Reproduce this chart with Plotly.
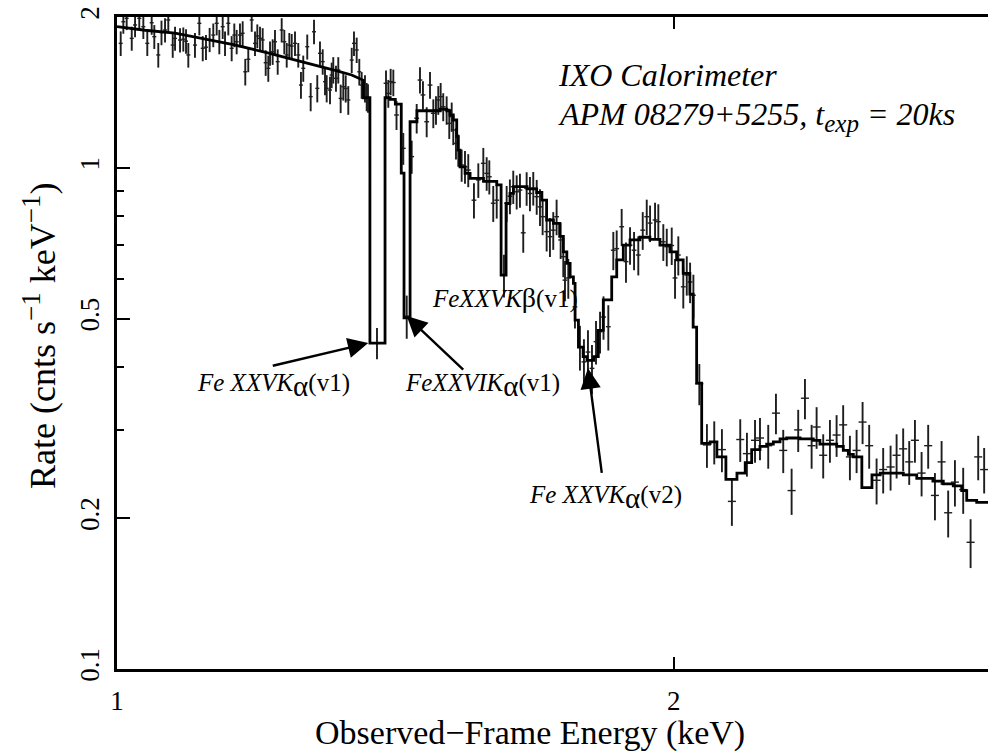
import math
import plotly.graph_objects as go

# ---------------------------------------------------------------
# Observed spectrum (rate in cnts s^-1 keV^-1, 1-sigma errors)
# ---------------------------------------------------------------
energy_lo = [1.0046, 1.0079, 1.0121, 1.0185, 1.0227, 1.0281, 1.0333, 1.0384, 1.0441, 1.0475,
             1.0527, 1.0569, 1.0616, 1.0659, 1.0718, 1.0749, 1.0816, 1.0860, 1.0897, 1.0928,
             1.1019, 1.1079, 1.1126, 1.1171, 1.1222, 1.1273, 1.1321, 1.1358, 1.1406, 1.1439,
             1.1486, 1.1534, 1.1572, 1.1606, 1.1654, 1.1693, 1.1731, 1.1775, 1.1825, 1.1874,
             1.1908, 1.1948, 1.1988, 1.2033, 1.2072, 1.2098, 1.2138, 1.2173, 1.2214, 1.2275,
             1.2315, 1.2352, 1.2392, 1.2429, 1.2480, 1.2531, 1.2573, 1.2609, 1.2672, 1.2726,
             1.2779, 1.2831, 1.2874, 1.2918, 1.2955, 1.2982, 1.3036, 1.3063, 1.3089, 1.3133,
             1.3171, 1.3210, 1.3253, 1.3293, 1.3336, 1.3393, 1.3431, 1.3476, 1.3520, 1.3560,
             1.3616, 1.3645]
rate_lo = [1.772, 1.957, 1.988, 1.813, 1.928, 1.988, 1.913, 1.772, 1.948, 1.827,
           1.680, 1.862, 1.884, 1.973, 1.758, 1.813, 1.799, 1.806, 1.790, 1.680,
           1.758, 1.943, 1.732, 1.741, 1.802, 1.841, 1.943, 1.785, 1.913, 1.772,
           1.943, 1.732, 1.841, 1.785, 1.841, 1.856, 1.555, 1.647, 1.973, 1.772,
           1.833, 1.813, 1.800, 1.621, 1.580, 1.693, 1.705, 1.785, 1.629, 1.884,
           1.785, 1.680, 1.758, 1.750, 1.772, 1.680, 1.463, 1.580, 1.745, 1.387,
           1.869, 1.441, 1.693, 1.629, 1.486, 1.441, 1.430, 1.532, 1.568, 1.509,
           1.568, 1.376, 1.452, 1.440, 1.366, 1.641, 1.772, 1.719, 1.555, 1.463,
           1.441, 1.387]
err_lo = [0.100, 0.105, 0.105, 0.100, 0.105, 0.105, 0.105, 0.100, 0.105, 0.100,
          0.095, 0.105, 0.105, 0.105, 0.100, 0.100, 0.100, 0.100, 0.100, 0.095,
          0.100, 0.105, 0.100, 0.100, 0.100, 0.100, 0.105, 0.100, 0.105, 0.100,
          0.105, 0.100, 0.100, 0.100, 0.100, 0.105, 0.095, 0.095, 0.105, 0.100,
          0.100, 0.100, 0.100, 0.095, 0.095, 0.095, 0.100, 0.100, 0.095, 0.105,
          0.100, 0.095, 0.100, 0.100, 0.100, 0.095, 0.090, 0.095, 0.100, 0.090,
          0.105, 0.090, 0.095, 0.095, 0.090, 0.090, 0.090, 0.090, 0.095, 0.090,
          0.095, 0.090, 0.090, 0.090, 0.090, 0.095, 0.100, 0.100, 0.095, 0.090,
          0.090, 0.090]

energy_mid = [1.3667, 1.3821, 1.3977, 1.4017, 1.4058, 1.4105, 1.4161, 1.4281, 1.4342, 1.4431,
              1.4521, 1.4581, 1.4635, 1.4703, 1.4764, 1.4825, 1.4874, 1.4917, 1.4961, 1.5009,
              1.5073, 1.5122, 1.5168, 1.5198, 1.5249, 1.5293, 1.5357, 1.5421, 1.5484, 1.5594,
              1.5679, 1.5777, 1.5843, 1.5895, 1.5973, 1.6042, 1.6188, 1.6242, 1.6308, 1.6376,
              1.6446, 1.6513, 1.6581, 1.6651, 1.6720, 1.6789, 1.6861, 1.6930, 1.6986, 1.7071,
              1.7141, 1.7212, 1.7284, 1.7371, 1.7428, 1.7465, 1.7537, 1.7683, 1.7793, 1.7882,
              1.7972, 1.8062, 1.8153, 1.8244, 1.8323, 1.8433, 1.8548, 1.8626, 1.8742, 1.8843,
              1.8938, 1.9033, 1.9134, 1.9240, 1.9336, 1.9416, 1.9537, 1.9617, 1.9739, 1.9824,
              1.9947, 2.0029, 2.0111, 2.0236, 2.0324, 2.0408, 2.0492]
rate_mid = [1.378, 0.447, 1.475, 1.408, 1.486, 1.480, 1.275, 1.094, 0.506, 1.053,
            1.256, 1.497, 1.398, 1.236, 1.463, 1.285, 1.304, 1.366, 1.387, 1.324,
            1.304, 1.227, 1.265, 1.190, 1.119, 1.085, 1.013, 1.005, 0.990, 0.862,
            0.946, 1.021, 0.975, 0.960, 0.850, 0.862, 0.611, 0.850, 0.878, 0.917,
            0.896, 0.903, 0.742, 0.910, 0.889, 0.911, 0.876, 0.836, 0.799, 0.746,
            0.729, 0.751, 0.799, 0.718, 0.665, 0.597, 0.603, 0.528, 0.439, 0.410,
            0.429, 0.398, 0.450, 0.471, 0.504, 0.482, 0.685, 0.690, 0.763, 0.650,
            0.701, 0.685, 0.670, 0.751, 0.799, 0.776, 0.787, 0.781, 0.712, 0.696,
            0.700, 0.603, 0.670, 0.579, 0.611, 0.592, 0.557]
err_mid = [0.090, 0.032, 0.090, 0.090, 0.090, 0.090, 0.085, 0.080, 0.050, 0.080,
           0.085, 0.090, 0.090, 0.085, 0.090, 0.085, 0.085, 0.090, 0.090, 0.085,
           0.085, 0.085, 0.085, 0.080, 0.080, 0.080, 0.075, 0.075, 0.075, 0.070,
           0.075, 0.075, 0.075, 0.075, 0.070, 0.070, 0.060, 0.070, 0.070, 0.070,
           0.070, 0.070, 0.065, 0.070, 0.070, 0.070, 0.070, 0.070, 0.065, 0.065,
           0.065, 0.065, 0.065, 0.060, 0.060, 0.055, 0.055, 0.050, 0.045, 0.045,
           0.045, 0.045, 0.045, 0.045, 0.050, 0.050, 0.060, 0.060, 0.065, 0.060,
           0.060, 0.060, 0.060, 0.065, 0.065, 0.065, 0.065, 0.065, 0.060, 0.060,
           0.060, 0.055, 0.060, 0.055, 0.055, 0.055, 0.055]

energy_hi = [2.0644, 2.0840, 2.1031, 2.1233, 2.1498, 2.1723, 2.1904, 2.2126, 2.2263, 2.2493,
             2.2710, 2.2917, 2.3157, 2.3348, 2.3545, 2.3741, 2.3889, 2.4086, 2.4288, 2.4491,
             2.4692, 2.4900, 2.5108, 2.5296, 2.5505, 2.5741, 2.5953, 2.6193, 2.6390, 2.6607,
             2.6808, 2.6999, 2.7224, 2.7448, 2.7680, 2.7910, 2.8140, 2.8377, 2.8671, 2.8936,
             2.9212, 2.9429]
rate_hi = [0.371, 0.280, 0.284, 0.274, 0.216, 0.287, 0.269, 0.286, 0.289, 0.279,
           0.324, 0.273, 0.227, 0.300, 0.347, 0.279, 0.304, 0.267, 0.286, 0.293,
           0.307, 0.265, 0.273, 0.311, 0.279, 0.238, 0.250, 0.253, 0.267, 0.275,
           0.259, 0.286, 0.246, 0.279, 0.222, 0.259, 0.205, 0.236, 0.228, 0.179,
           0.265, 0.250]
err_hi = [0.035, 0.028, 0.028, 0.027, 0.023, 0.028, 0.027, 0.028, 0.028, 0.028,
          0.030, 0.027, 0.024, 0.029, 0.032, 0.028, 0.029, 0.027, 0.028, 0.028,
          0.029, 0.027, 0.027, 0.030, 0.028, 0.025, 0.026, 0.026, 0.027, 0.027,
          0.026, 0.028, 0.025, 0.028, 0.024, 0.026, 0.022, 0.025, 0.024, 0.020,
          0.027, 0.026]

# ---------------------------------------------------------------
# Best-fit model: finely binned continuum, then the binned absorption part
# ---------------------------------------------------------------
model_cont_energy = [1.000, 1.0355, 1.0749, 1.1134, 1.1558, 1.2048, 1.2376, 1.2585,
                     1.2847, 1.3117, 1.3392, 1.3590]
model_cont_rate = [1.913, 1.882, 1.857, 1.808, 1.762, 1.698, 1.655, 1.632,
                   1.597, 1.565, 1.532, 1.495]

model_edges = [1.359, 1.370, 1.396, 1.405, 1.414, 1.4245, 1.4294, 1.4402, 1.4526, 1.4953,
               1.5076, 1.5136, 1.5198, 1.5263, 1.5293, 1.5325, 1.5423, 1.5519, 1.578, 1.6043,
               1.613, 1.623, 1.631, 1.638, 1.666, 1.686, 1.697, 1.707, 1.7215, 1.735,
               1.743, 1.7505, 1.7577, 1.7649, 1.7686, 1.776, 1.7864, 1.795, 1.81, 1.8204,
               1.8318, 1.8511, 1.8627, 1.878, 1.8938, 1.9173, 1.9413, 1.9656, 1.9902, 2.0069,
               2.0233, 2.0402, 2.0486, 2.0575, 2.0705, 2.0924, 2.11, 2.1338, 2.1634, 2.1858,
               2.2034, 2.2263, 2.2449, 2.2636, 2.2826, 2.3014, 2.3401, 2.3792, 2.3988, 2.4495,
               2.4696, 2.4851, 2.5006, 2.5273, 2.5593, 2.5858, 2.6612, 2.706, 2.761, 2.797,
               2.8319, 2.8618, 2.8797, 2.9157, 2.96]
model_rates = [1.38, 0.447, 1.38, 1.37, 1.34, 0.976, 0.502, 1.236, 1.30, 1.31,
               1.30, 1.275, 1.246, 1.154, 1.085, 1.005, 0.975, 0.953, 0.94, 0.925,
               0.611, 0.849, 0.889, 0.917, 0.908, 0.893, 0.862, 0.787, 0.775, 0.73,
               0.68, 0.645, 0.606, 0.588, 0.497, 0.439, 0.42, 0.413, 0.42, 0.474,
               0.545, 0.606, 0.655, 0.701, 0.718, 0.727, 0.72, 0.701, 0.68, 0.655,
               0.616, 0.56, 0.481, 0.372, 0.282, 0.284, 0.265, 0.239, 0.246, 0.258,
               0.274, 0.278, 0.281, 0.284, 0.288, 0.289, 0.288, 0.286, 0.281, 0.278,
               0.273, 0.268, 0.265, 0.230, 0.244, 0.246, 0.244, 0.240, 0.237, 0.234,
               0.232, 0.227, 0.217, 0.215]

# Absorption-line identifications: line energy (keV), rate at trough, arrow tail offset (px)
line_energy = [1.3672, 1.4342, 1.7972]
line_rate = [0.447, 0.506, 0.398]
arrow_tail = [(-97, 23), (58, 55), (14, 106)]

x_range = [1.0, 2.957]
y_range = [0.1, 2.0]
x_ticks = [1, 2]
y_ticks = [0.1, 0.2, 0.5, 1, 2]
y_minor = [0.3, 0.4, 0.6, 0.7, 0.8, 0.9]

SERIF = "Liberation Serif"
BAR = "#1e1e1e"

fig = go.Figure()

for e, r, s, pct in [(energy_lo, rate_lo, err_lo, 0.25),
                     (energy_mid, rate_mid, err_mid, 0.3),
                     (energy_hi, rate_hi, err_hi, 0.5)]:
    fig.add_trace(go.Scatter(
        x=e, y=r, mode="markers",
        marker=dict(size=2, color="rgba(0,0,0,0)"),
        error_y=dict(type="data", array=s, visible=True, thickness=1.9, width=0, color=BAR),
        error_x=dict(type="percent", value=pct, visible=True, thickness=1.4, width=0, color=BAR),
        showlegend=False, hoverinfo="skip",
    ))

mx = list(model_cont_energy)
my = list(model_cont_rate)
for lo, hi, v in zip(model_edges[:-1], model_edges[1:], model_rates):
    mx += [lo, hi]
    my += [v, v]

fig.add_trace(go.Scatter(
    x=mx, y=my, mode="lines",
    line=dict(color="black", width=2.8),
    showlegend=False, hoverinfo="skip",
))

annotations = []
for e, r, (ax, ay) in zip(line_energy, line_rate, arrow_tail):
    annotations.append(dict(
        x=math.log10(e), y=math.log10(r), xref="x", yref="y",
        text="", showarrow=True, arrowhead=2, arrowsize=1.7, arrowwidth=2.4,
        arrowcolor="black", ax=ax, ay=ay, standoff=0,
    ))

W, H = 988, 752
L, R, T, B = 117, 0, 17, 83
pw, ph = W - L - R, H - T - B


def px(x, y):
    return (x - L) / pw, (H - B - y) / ph


ALPHA = '<sub><span style="font-size:29px">α</span></sub>'
label_font = dict(family=SERIF, size=25, color="black")
for text, xpix, ypix in [("<i>Fe XXVK</i>" + ALPHA + "(v1)", 195, 385),
                         ("<i>FeXXVIK</i>" + ALPHA + "(v1)", 403, 385),
                         ("<i>Fe XXVK</i>" + ALPHA + "(v2)", 527, 497),
                         ('<i>FeXXVK</i><span style="font-size:28px">β</span>(v1)', 430, 297)]:
    ux, uy = px(xpix, ypix)
    annotations.append(dict(x=ux, y=uy, xref="paper", yref="paper", text=text,
                            showarrow=False, xanchor="left", yanchor="middle", font=label_font))

title_font = dict(family=SERIF, size=32, color="black")
ux, uy = px(556, 75)
annotations.append(dict(x=ux, y=uy, xref="paper", yref="paper", text="<i>IXO Calorimeter</i>",
                        showarrow=False, xanchor="left", yanchor="middle", font=title_font))
ux, uy = px(556, 116)
annotations.append(dict(x=ux, y=uy, xref="paper", yref="paper",
                        text='<i>APM 08279+5255, t<sub><span style="font-size:25px">exp</span></sub> = 20ks</i>',
                        showarrow=False, xanchor="left", yanchor="middle", font=title_font))

axis_font = dict(family=SERIF, size=34, color="black")
ux, uy = px(530, 733)
annotations.append(dict(x=ux, y=uy, xref="paper", yref="paper",
                        text="Observed−Frame Energy (keV)",
                        showarrow=False, xanchor="center", yanchor="middle", font=axis_font))
SUP = '<sup><span style="font-size:27px">−1</span></sup>'
ux, uy = px(40, 336)
annotations.append(dict(x=ux, y=uy, xref="paper", yref="paper",
                        text="Rate (cnts s" + SUP + " keV" + SUP + ")", textangle=-90,
                        showarrow=False, xanchor="center", yanchor="middle",
                        font=dict(family=SERIF, size=36, color="black")))

tick_font = dict(family=SERIF, size=27, color="black")
fig.update_layout(
    width=W, height=H, autosize=False,
    margin=dict(l=L, r=R, t=T, b=B, pad=0),
    paper_bgcolor="white", plot_bgcolor="white",
    showlegend=False,
    font=dict(family=SERIF, color="black"),
    annotations=annotations,
    xaxis=dict(
        type="log",
        range=[math.log10(x_range[0]) - 1e-5, math.log10(x_range[1])],
        tickvals=x_ticks, ticktext=[str(t) for t in x_ticks],
        ticks="inside", ticklen=12, tickwidth=2, tickcolor="black",
        showline=True, linewidth=3, linecolor="black", mirror="ticks",
        showgrid=False, zeroline=False, tickfont=tick_font, ticklabelstandoff=6,
    ),
    yaxis=dict(
        type="log",
        range=[math.log10(y_range[0]) - 1e-5, math.log10(y_range[1]) + 1e-5],
        tickvals=y_ticks, ticktext=[f"{t:g}" for t in y_ticks], tickangle=-90,
        ticks="inside", ticklen=13, tickwidth=2, tickcolor="black",
        minor=dict(tickvals=y_minor, ticks="inside", ticklen=7, tickwidth=2, tickcolor="black"),
        showline=True, linewidth=3, linecolor="black", mirror=False,
        showgrid=False, zeroline=False, tickfont=tick_font, ticklabelstandoff=4,
    ),
)

fig.write_html("out.html")
